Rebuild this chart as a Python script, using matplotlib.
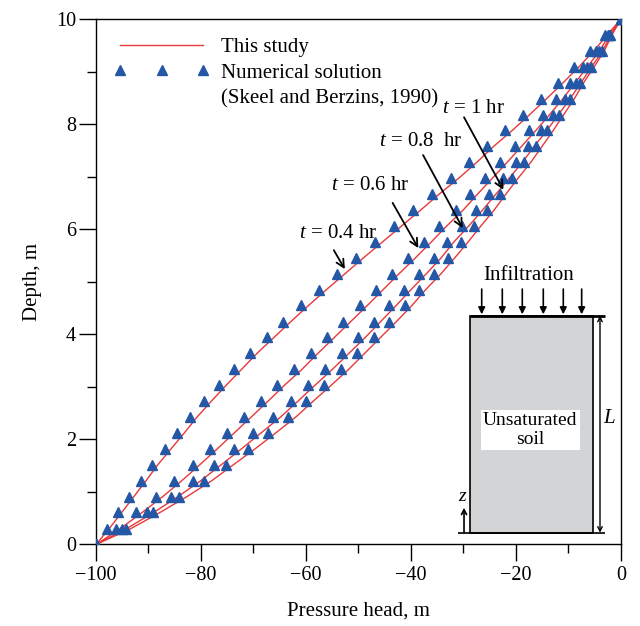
import matplotlib
matplotlib.use("Agg")
import matplotlib.pyplot as plt
from matplotlib.lines import Line2D
from matplotlib.patches import Rectangle
from matplotlib.ticker import MultipleLocator

plt.rcParams['font.family'] = ['Liberation Serif', 'DejaVu Serif']
plt.rcParams['mathtext.fontset'] = 'custom'
plt.rcParams['mathtext.rm'] = 'Liberation Serif'
plt.rcParams['mathtext.it'] = 'Liberation Serif:italic'

# profondeurs (m) communes a toutes les courbes
profondeur = [0.0, 0.30, 0.61, 0.91, 1.21, 1.52, 1.82, 2.12, 2.42, 2.73, 3.03, 3.33,
              3.64, 3.94, 4.24, 4.55, 4.85, 5.15, 5.45, 5.76, 6.06, 6.36, 6.67, 6.97,
              7.27, 7.58, 7.88, 8.18, 8.48, 8.79, 9.09, 9.39, 9.70, 10.0]

# This study (courbes rouges), charge de pression en m
etude_04 = [-100.0, -97.5, -95.1, -92.8, -90.5, -88.2, -85.7, -83.2, -80.8, -78.0, -75.2, -72.3,
            -69.3, -66.1, -62.9, -59.5, -56.1, -52.6, -49.1, -45.4, -41.8, -38.2, -34.6, -30.9,
            -27.5, -24.2, -20.7, -17.4, -14.2, -11.0, -8.0, -5.2, -2.6, 0.0]
etude_06 = [-100.0, -95.4, -91.2, -87.3, -83.7, -80.2, -76.9, -73.7, -70.5, -67.2, -64.1, -60.8,
            -57.7, -54.6, -51.5, -48.3, -45.3, -42.3, -39.2, -36.1, -33.2, -30.1, -27.3, -24.5,
            -21.7, -18.9, -16.2, -13.6, -11.1, -8.7, -6.4, -4.1, -2.2, 0.0]
etude_08 = [-100.0, -94.2, -89.0, -84.4, -80.1, -76.1, -72.3, -68.6, -64.9, -61.5, -58.3, -55.0,
            -51.8, -48.7, -45.8, -42.8, -40.0, -37.1, -34.3, -31.8, -29.0, -26.4, -23.8, -21.3,
            -18.8, -16.5, -14.1, -11.9, -9.7, -7.6, -5.6, -3.5, -1.9, 0.0]
etude_10 = [-100.0, -93.4, -87.8, -82.7, -78.0, -73.8, -69.7, -65.8, -62.0, -58.6, -55.2, -51.9,
            -48.8, -45.8, -42.8, -39.8, -37.2, -34.3, -31.7, -29.1, -26.7, -24.2, -21.9, -19.6,
            -17.2, -15.0, -12.9, -10.9, -8.9, -7.1, -5.1, -3.2, -1.7, 0.0]

# solution numerique (Skeel and Berzins, 1990), triangles bleus
num_04 = [-100.0, -97.9, -95.8, -93.7, -91.5, -89.3, -86.9, -84.5, -82.1, -79.4, -76.6, -73.7,
          -70.7, -67.5, -64.3, -60.9, -57.5, -54.0, -50.5, -46.8, -43.2, -39.6, -36.0, -32.3,
          -28.9, -25.5, -22.0, -18.6, -15.3, -12.0, -8.9, -5.9, -3.0, 0.0]
num_06 = [-100.0, -96.1, -92.3, -88.6, -85.1, -81.6, -78.3, -75.1, -71.9, -68.6, -65.5, -62.2,
          -59.1, -56.0, -52.9, -49.7, -46.7, -43.7, -40.6, -37.5, -34.6, -31.5, -28.7, -25.9,
          -23.1, -20.2, -17.5, -14.8, -12.3, -9.7, -7.2, -4.7, -2.5, 0.0]
num_08 = [-100.0, -95.0, -90.2, -85.7, -81.5, -77.5, -73.7, -70.0, -66.3, -62.9, -59.7, -56.4,
          -53.2, -50.1, -47.1, -44.1, -41.3, -38.4, -35.6, -33.1, -30.3, -27.7, -25.1, -22.5,
          -20.0, -17.7, -15.3, -13.0, -10.7, -8.5, -6.4, -4.1, -2.2, 0.0]
num_10 = [-100.0, -94.3, -89.1, -84.1, -79.4, -75.2, -71.1, -67.2, -63.4, -60.0, -56.6, -53.3,
          -50.2, -47.1, -44.1, -41.1, -38.5, -35.6, -33.0, -30.4, -28.0, -25.5, -23.1, -20.8,
          -18.4, -16.2, -14.1, -11.9, -9.8, -7.9, -5.8, -3.7, -2.0, 0.0]

etiquettes_t = ["$t$ = 0.4 hr", "$t$ = 0.6 hr", "$t$ = 0.8  hr", "$t$ = 1 hr"]

ROUGE = '#e8383a'
BLEU = '#2457a6'
FS = 15

fig = plt.figure(figsize=(6.4, 6.26), dpi=100)
ax = fig.add_axes([0.15, 0.1302, 0.8203, 0.8395])

for x in [etude_04, etude_06, etude_08, etude_10]:
    ax.plot(x, profondeur, color=ROUGE, lw=1.0, zorder=2)
for x in [num_04, num_06, num_08, num_10]:
    ax.plot(x, profondeur, ls='none', marker='^', ms=6.5, color=BLEU, mec=BLEU, zorder=3)

ax.set_xlim(-100, 0)
ax.set_ylim(0, 10)
ax.xaxis.set_major_locator(MultipleLocator(20))
ax.xaxis.set_minor_locator(MultipleLocator(10))
ax.yaxis.set_major_locator(MultipleLocator(2))
ax.yaxis.set_minor_locator(MultipleLocator(1))
ax.tick_params(which='major', direction='out', length=12.5, width=1.0, labelsize=FS - 0.5)
ax.tick_params(which='minor', direction='out', length=6.5, width=1.0)
ax.tick_params(axis='x', which='major', pad=3)
ax.tick_params(axis='y', which='major', pad=2)
for s in ax.spines.values():
    s.set_linewidth(1.0)

ax.set_xlabel("Pressure head, m", fontsize=FS, labelpad=12)
ax.set_ylabel("Depth, m", fontsize=FS, labelpad=10)

# legende
poignees = [Line2D([], [], color=ROUGE, lw=1.0),
            Line2D([], [], ls='none', marker='^', ms=6.5, color=BLEU),
            Line2D([], [], ls='none')]
noms = ["This study", "Numerical solution", "(Skeel and Berzins, 1990)"]
ax.legend(poignees, noms, loc='upper left', bbox_to_anchor=(0.034, 0.965), frameon=False,
          fontsize=FS, numpoints=3, handlelength=4.6, handletextpad=0.52,
          labelspacing=0.29, borderpad=0, borderaxespad=0)

# etiquettes des temps avec fleches
pos_texte = [(-53.85, 5.92), (-47.7, 6.84), (-38.1, 7.66), (-28.1, 8.30)]
queues = [(-54.7, 5.60), (-43.5, 6.50), (-37.7, 7.41), (-29.9, 8.13)]
pointes = [(-52.6, 5.24), (-38.6, 5.64), (-30.15, 6.02), (-22.4, 6.75)]
for lab, pt, q, p in zip(etiquettes_t, pos_texte, queues, pointes):
    ax.text(pt[0], pt[1], lab, fontsize=FS, ha='center', va='center')
    ax.annotate('', xy=p, xytext=q,
                arrowprops=dict(arrowstyle='->', lw=1.3, color='black', mutation_scale=14,
                                shrinkA=0, shrinkB=0))

# schema de la colonne de sol
ax.add_patch(Rectangle((-28.76, 0.225), 23.48, 4.13, facecolor='#d3d4d5',
                       edgecolor='black', lw=1.2, zorder=4))
ax.plot([-28.76, -3.05], [4.354, 4.354], color='black', lw=2.0, zorder=5,
        solid_capstyle='butt')
ax.plot([-31.0, -3.05], [0.225, 0.225], color='black', lw=1.2, zorder=5,
        solid_capstyle='butt')
ax.annotate('', xy=(-4.0, 0.225), xytext=(-4.0, 4.354),
            arrowprops=dict(arrowstyle='<->', lw=1.0, color='black', mutation_scale=8,
                            shrinkA=0, shrinkB=0), zorder=5)
ax.text(-2.2, 2.40, "$L$", fontsize=FS, ha='center', va='center')
for xi in [-26.53, -22.61, -18.80, -14.80, -10.99, -7.49]:
    ax.annotate('', xy=(xi, 4.38), xytext=(xi, 4.86),
                arrowprops=dict(arrowstyle='-|>', lw=1.2, color='black', mutation_scale=10,
                                shrinkA=0, shrinkB=0))
ax.text(-17.5, 5.11, "Infiltration", fontsize=FS, ha='center', va='center')
ax.text(-17.3, 2.18, "Unsaturated\nsoil", fontsize=FS - 1, ha='center', va='center',
        linespacing=1.15, zorder=6,
        bbox=dict(facecolor='white', edgecolor='none', pad=1.5))
ax.annotate('', xy=(-29.9, 0.70), xytext=(-29.9, 0.225),
            arrowprops=dict(arrowstyle='->', lw=1.2, color='black', mutation_scale=9,
                            shrinkA=0, shrinkB=0))
ax.text(-30.15, 0.92, "$z$", fontsize=FS - 1, ha='center', va='center')

fig.savefig("out.png", dpi=100)
